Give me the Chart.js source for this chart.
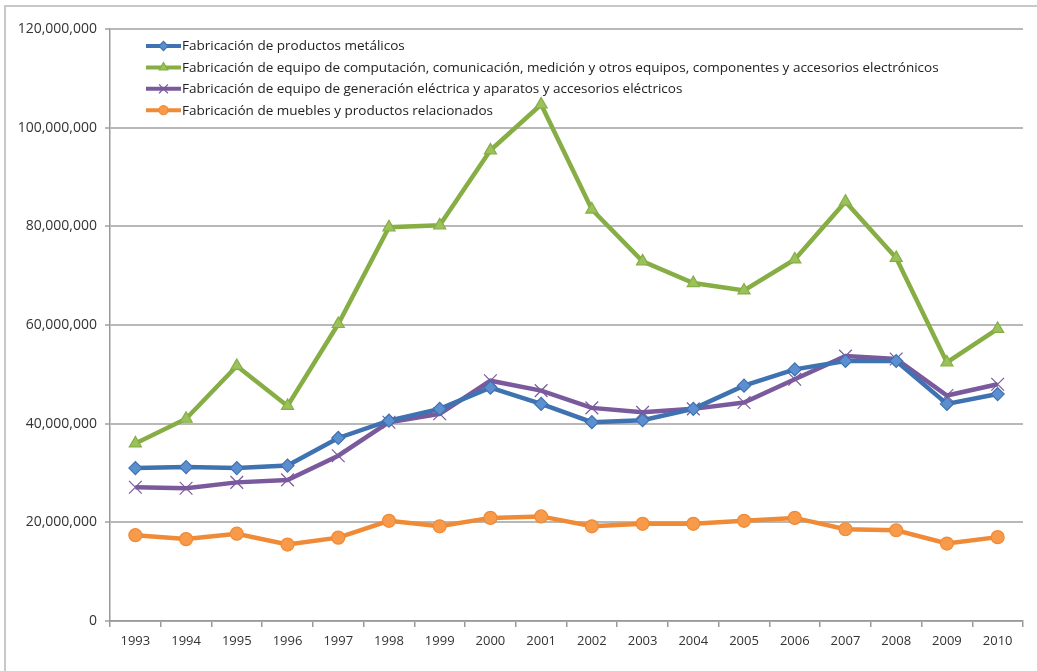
<!DOCTYPE html>
<html>
<head>
<meta charset="utf-8">
<script src="https://cdn.jsdelivr.net/npm/chart.js@4"></script>
<style>
html,body{margin:0;padding:0;background:#fff;}
#wrap{position:relative;width:1037px;height:671px;}
</style>
</head>
<body>
<div id="wrap"><canvas id="c" width="1037" height="671"></canvas></div>
<script>
const years = ["1993","1994","1995","1996","1997","1998","1999","2000","2001","2002","2003","2004","2005","2006","2007","2008","2009","2010"];
const seriesNames = [
  "Fabricación de productos metálicos",
  "Fabricación de equipo de computación, comunicación, medición y otros equipos, componentes y accesorios electrónicos",
  "Fabricación de equipo de generación eléctrica y aparatos y accesorios eléctricos",
  "Fabricación de muebles y productos relacionados"
];
const metalicos = [31000000,31200000,31000000,31500000,37100000,40600000,43000000,47300000,44000000,40300000,40700000,43000000,47700000,51000000,52700000,52700000,44000000,46000000];
const computacion = [36000000,41000000,51700000,43600000,60200000,79800000,80200000,95400000,104700000,83400000,72900000,68500000,67000000,73300000,85000000,73600000,52400000,59200000];
const electrica = [27100000,26900000,28100000,28600000,33500000,40300000,42000000,48700000,46700000,43200000,42300000,43000000,44300000,49000000,53700000,53100000,45700000,48000000];
const muebles = [17400000,16600000,17700000,15500000,16900000,20300000,19200000,20900000,21200000,19200000,19700000,19700000,20300000,20900000,18600000,18400000,15700000,17000000];
const yTicks = [0,20000000,40000000,60000000,80000000,100000000,120000000];

const FONT = "'Open Sans', 'Liberation Sans', sans-serif";

const legendPlugin = {
  id: 'innerLegend',
  beforeDatasetsDraw(chart) {
    const ctx = chart.ctx;
    ctx.save();
    chart.data.datasets.forEach((ds, i) => {
      const y = 46 + i * 21.4;
      ctx.strokeStyle = ds.borderColor;
      ctx.lineWidth = 4;
      ctx.lineCap = 'butt';
      ctx.beginPath();
      ctx.moveTo(146, y);
      ctx.lineTo(181, y);
      ctx.stroke();
      ctx.fillStyle = ds.pointBackgroundColor;
      ctx.strokeStyle = ds.pointBorderColor;
      ctx.lineWidth = 1.2;
      Chart.helpers.drawPoint(ctx, {
        pointStyle: ds.pointStyle,
        radius: ds.pointRadius * 0.7,
        borderWidth: 1.2,
        rotation: 0
      }, 163.5, y);
      ctx.fillStyle = '#222';
      ctx.font = '13.5px ' + FONT;
      ctx.textBaseline = 'middle';
      ctx.textAlign = 'left';
      ctx.fillText(ds.label, 182, y + 0.5);
    });
    ctx.restore();
  }
};

const framePlugin = {
  id: 'frame',
  beforeDraw(chart) {
    const ctx = chart.ctx;
    ctx.save();
    ctx.strokeStyle = '#c8c8c8';
    ctx.lineWidth = 2;
    ctx.beginPath();
    ctx.moveTo(5, 671);
    ctx.lineTo(5, 6);
    ctx.lineTo(1037, 6);
    ctx.stroke();
    ctx.restore();
  }
};

function ds(label, data, color, fill, style, radius, width) {
  return {
    label, data,
    borderColor: color,
    backgroundColor: color,
    pointBackgroundColor: fill,
    pointBorderColor: color,
    pointBorderWidth: 1.2,
    pointStyle: style,
    pointRadius: radius,
    pointHoverRadius: radius,
    borderWidth: width,
    tension: 0,
    fill: false
  };
}

new Chart(document.getElementById('c'), {
  type: 'line',
  data: {
    labels: years,
    datasets: [
      ds(seriesNames[0], metalicos, '#3f72b0', '#5b8fd0', 'rectRot', 6.5, 4.5),
      ds(seriesNames[1], computacion, '#86ae44', '#9bc25a', 'triangle', 7, 4.5),
      ds(seriesNames[2], electrica, '#7a5a9c', '#8a6aac', 'crossRot', 9, 4.5),
      ds(seriesNames[3], muebles, '#ef8a36', '#f79a4a', 'circle', 6.5, 4.5)
    ]
  },
  options: {
    responsive: false,
    animation: false,
    events: [],
    layout: { padding: { left: 10, right: 14, top: 29, bottom: 0 } },
    plugins: { legend: { display: false }, tooltip: { enabled: false } },
    scales: {
      x: {
        offset: true,
        grid: { offset: true, drawOnChartArea: false, drawTicks: true, tickLength: 6, color: '#999', lineWidth: 1.5 },
        border: { color: '#999', width: 1.5 },
        ticks: { color: '#333', font: { family: FONT, size: 13 }, padding: 6, maxRotation: 0, autoSkip: false },
        afterFit(scale) { scale.height = 50; }
      },
      y: {
        min: 0, max: 120000000,
        afterBuildTicks(scale) { scale.ticks = yTicks.map(v => ({ value: v })); },
        grid: { color: '#b8b8b8', lineWidth: 2, tickLength: 5 },
        border: { color: '#999', width: 1.5 },
        ticks: {
          color: '#333', font: { family: FONT, size: 14 }, padding: 8,
          callback: v => v.toLocaleString('en-US')
        },
        afterFit(scale) { scale.width = 100; }
      }
    }
  },
  plugins: [framePlugin, legendPlugin]
});
</script>
</body>
</html>
